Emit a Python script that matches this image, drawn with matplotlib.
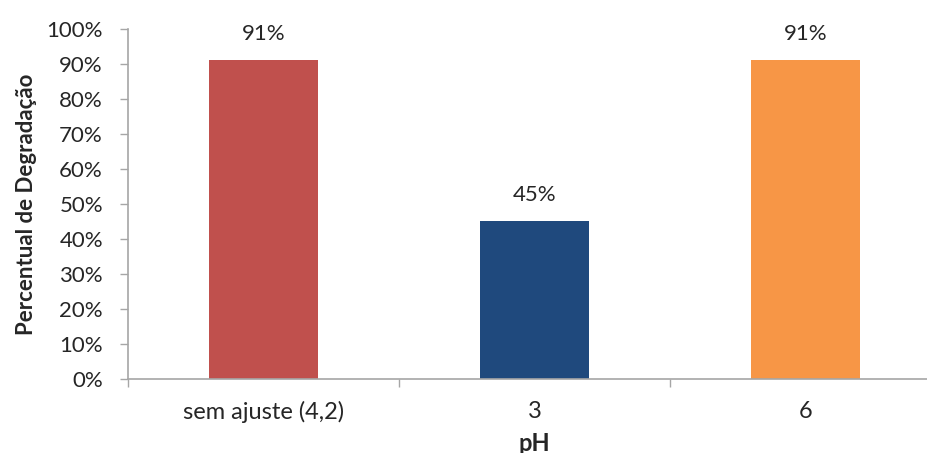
import matplotlib
matplotlib.use("Agg")
import matplotlib.pyplot as plt
from matplotlib.ticker import FuncFormatter, FixedLocator

plt.rcParams['font.family'] = ['Lato', 'DejaVu Sans']

# 数据
categorias = ["sem ajuste (4,2)", "3", "6"]
degradacao = [0.91, 0.45, 0.91]
cores = ["#C0504D", "#1F497D", "#F79646"]

fig = plt.figure(figsize=(9.28, 4.53), dpi=100)
ax = fig.add_axes([0.1379, 0.1634, 0.876, 0.7726])

x = list(range(len(categorias)))
bars = ax.bar(x, degradacao, width=0.4, color=cores, zorder=2)

# 数据标签
for b, v in zip(bars, degradacao):
    ax.annotate(f"{v:.0%}", (b.get_x() + b.get_width() / 2, v),
                xytext=(0, 19), textcoords="offset points",
                ha="center", va="center", fontsize=16, color="#262626")

ax.set_xlim(-0.5, len(categorias) - 0.5)
ax.set_ylim(0, 1.0)
ax.set_yticks([i / 10 for i in range(11)])
ax.yaxis.set_major_formatter(FuncFormatter(lambda v, _: f"{v:.0%}"))

# 类别边界刻度 + 居中标签
ax.xaxis.set_major_locator(FixedLocator([i - 0.5 for i in range(len(categorias) + 1)]))
ax.xaxis.set_major_formatter(FuncFormatter(lambda v, _: ""))
ax.set_xticks(x, minor=True)
ax.set_xticklabels(categorias, minor=True)
ax.tick_params(axis="x", which="minor", length=0, pad=16, labelsize=17, labelcolor="#262626")
ax.tick_params(axis="x", which="major", length=6, width=1, color="#A6A6A6", direction="out")
ax.tick_params(axis="y", length=6, width=1, color="#A6A6A6", labelsize=16,
               labelcolor="#262626", pad=12)

for s in ["top", "right"]:
    ax.spines[s].set_visible(False)
for s in ["left", "bottom"]:
    ax.spines[s].set_color("#A6A6A6")
    ax.spines[s].set_linewidth(1.2)

ax.set_xlabel("pH", fontsize=17, fontweight="bold", color="#262626", labelpad=6)
ax.set_ylabel("Percentual de Degradação", fontsize=16, fontweight="bold",
              color="#262626", labelpad=7)

fig.savefig("out.png", dpi=100)
